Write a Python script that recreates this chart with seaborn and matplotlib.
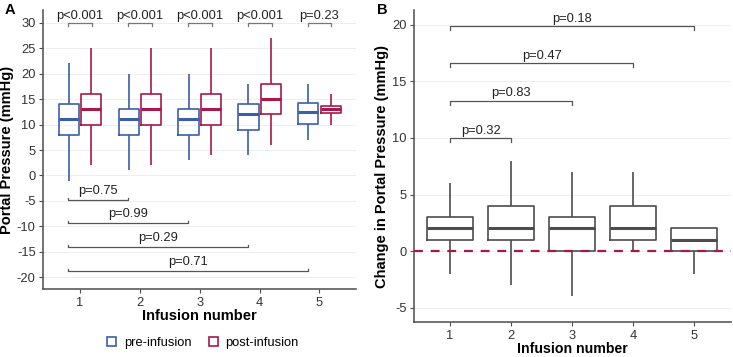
import numpy as np
import pandas as pd
import seaborn as sns
from matplotlib import pyplot as plt

# five-number summaries: [min, q1, median, q3, max]
infusion = ['1', '2', '3', '4', '5']
pre_1 = [-1, 8, 11, 14, 22]
pre_2 = [1, 8, 11, 13, 20]
pre_3 = [3, 8, 11, 13, 20]
pre_4 = [4, 9, 12, 14, 18]
pre_5 = [7, 10.2, 12.5, 14.3, 18]
post_1 = [2, 10, 13, 16, 25]
post_2 = [2, 10, 13, 16, 25]
post_3 = [4, 10, 13, 16, 25]
post_4 = [6, 12, 15, 18, 27]
post_5 = [10, 12.2, 13, 13.7, 16]

chg_1 = [-2, 1, 2, 3, 6]
chg_2 = [-3, 1, 2, 4, 8]
chg_3 = [-4, 0, 2, 3, 7]
chg_4 = [0, 1, 2, 4, 7]
chg_5 = [-2, 0, 1, 2, 2]

p_pair = ['p<0.001', 'p<0.001', 'p<0.001', 'p<0.001', 'p=0.23']
p_pre_vs_1 = ['p=0.75', 'p=0.99', 'p=0.29', 'p=0.71']
p_chg_vs_1 = ['p=0.32', 'p=0.83', 'p=0.47', 'p=0.18']

BLUE = '#3a5fa8'
RED = '#a8194a'
GREY = '#4d4d4d'

plt.rcParams['font.family'] = ['Liberation Sans', 'DejaVu Sans']

rows = []
for inf, pre, post in zip(infusion, [pre_1, pre_2, pre_3, pre_4, pre_5],
                          [post_1, post_2, post_3, post_4, post_5]):
    for v in pre:
        rows.append((inf, 'pre-infusion', v))
    for v in post:
        rows.append((inf, 'post-infusion', v))
df_a = pd.DataFrame(rows, columns=['infusion', 'phase', 'pressure'])

rows = []
for inf, chg in zip(infusion, [chg_1, chg_2, chg_3, chg_4, chg_5]):
    for v in chg:
        rows.append((inf, v))
df_b = pd.DataFrame(rows, columns=['infusion', 'change'])

fig = plt.figure(figsize=(7.33, 3.57), dpi=100)
W, H = 733, 357
ax1 = fig.add_axes([43.3 / W, 1 - 289 / H, (356 - 43.3) / W, (289 - 10) / H])
ax2 = fig.add_axes([414.3 / W, 1 - 322 / H, (731 - 414.3) / W, (322 - 10) / H])


def style(ax, ylim, xlim, yticks, xpad, xsize):
    ax.set_ylim(*ylim)
    ax.set_xlim(*xlim)
    ax.set_yticks(yticks)
    ax.set_yticklabels([str(t) for t in yticks])
    for t in yticks:
        ax.axhline(t, color='#ebebeb', lw=0.6, zorder=0)
    for s in ['top', 'right']:
        ax.spines[s].set_visible(False)
    for s in ['left', 'bottom']:
        ax.spines[s].set_color(GREY)
        ax.spines[s].set_linewidth(1.1)
    ax.tick_params(axis='both', colors=GREY, labelcolor='#333333', labelsize=9.3, length=3, width=0.8, pad=2.5)
    ax.set_xlabel('Infusion number', fontsize=xsize, fontweight='bold', labelpad=xpad)


sns.boxplot(data=df_a, x='infusion', y='pressure', hue='phase', ax=ax1,
            palette=[BLUE, RED], fill=False, width=0.75, gap=0.1, whis=np.inf,
            showfliers=False, showcaps=False, linewidth=1.2,
            medianprops={'linewidth': 2.2}, legend=True)
style(ax1, (-22.3, 32.5), (-0.614, 4.61), [-20, -15, -10, -5, 0, 5, 10, 15, 20, 25, 30], 0.5, 10.5)
ax1.set_ylabel('Portal Pressure (mmHg)', fontsize=10.5, fontweight='bold', labelpad=2)
ax1.get_legend().remove()
handles, labels = ax1.get_legend_handles_labels()
fig.legend(handles, labels, loc='center', bbox_to_anchor=(203 / W, 1 - 343 / H), ncol=2,
           frameon=False, fontsize=9.3, handlelength=0.7, handleheight=0.7, columnspacing=1.3,
           handletextpad=0.6)

# paired brackets pre vs post
for i, lab in enumerate(p_pair):
    x0, x1 = i - 0.2, i + 0.2
    ax1.plot([x0, x0, x1, x1], [29.4, 29.9, 29.9, 29.4], color='#777777', lw=0.9)
    ax1.text(i, 30.2, lab, ha='center', va='bottom', fontsize=9.3, color='#222222')

# pre-infusion vs infusion 1
for k, (lab, y) in enumerate(zip(p_pre_vs_1, [-4.8, -9.4, -14.1, -18.7])):
    x0, x1 = -0.2, k + 1 - 0.2
    ax1.plot([x0, x0, x1, x1], [y + 0.4, y, y, y + 0.4], color='#555555', lw=0.9)
    ax1.text((x0 + x1) / 2, y + 0.6, lab, ha='center', va='bottom', fontsize=9.3, color='#222222')

sns.boxplot(data=df_b, x='infusion', y='change', ax=ax2, color=GREY, fill=False,
            width=0.75, whis=np.inf, showfliers=False, showcaps=False, linewidth=1.2,
            medianprops={'linewidth': 2.2})
style(ax2, (-6.26, 21.3), (-0.585, 4.6), [-5, 0, 5, 10, 15, 20], 0, 10.2)
ax2.set_ylabel('Change in Portal Pressure (mmHg)', fontsize=10.5, fontweight='bold', labelpad=2)
ax2.axhline(0, color=RED, lw=1.6, ls=(0, (4, 3.5)), zorder=5)

for k, (lab, y) in enumerate(zip(p_chg_vs_1, [10, 13.3, 16.6, 19.9])):
    x0, x1 = 0, k + 1
    ax2.plot([x0, x0, x1, x1], [y - 0.35, y, y, y - 0.35], color='#555555', lw=0.9)
    ax2.text((x0 + x1) / 2, y + 0.1, lab, ha='center', va='bottom', fontsize=9.3, color='#222222')

fig.text(5 / W, 1 - 10 / H, 'A', fontsize=10.5, fontweight='bold', va='center')
fig.text(377 / W, 1 - 10 / H, 'B', fontsize=10.5, fontweight='bold', va='center')

fig.savefig('out.png', dpi=100)
